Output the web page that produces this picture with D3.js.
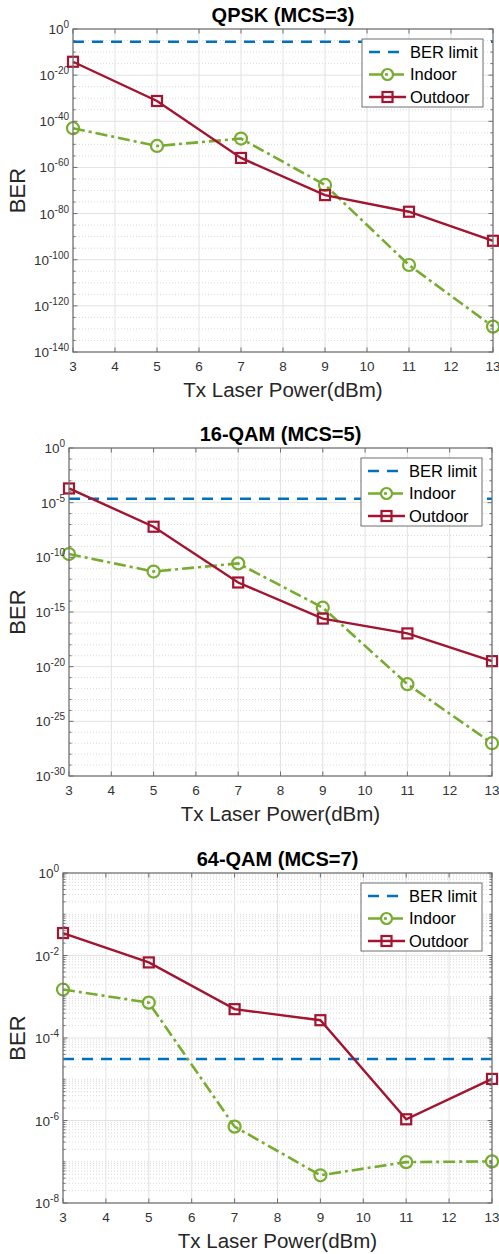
<!DOCTYPE html>
<html lang="en">
<head>
<meta charset="UTF-8">
<title>BER vs Tx laser power</title>
<style>
  body { margin: 0; background: #fff; }
  text { font-family: "Liberation Sans", Arial, sans-serif; }
</style>
</head>
<body>
<svg width="499" height="1254"></svg>
<script src="https://d3js.org/d3.v7.min.js"></script>
<script>

// tx laser power (dBm)
var power = [3, 5, 7, 9, 11, 13];
var xTicks = [3, 4, 5, 6, 7, 8, 9, 10, 11, 12, 13];

// QPSK (MCS=3)
var qpskIndoor  = [1e-43, 2e-51, 3.2e-48, 2.5e-68, 5e-103, 1e-129];
var qpskOutdoor = [6.3e-15, 6.3e-32, 1.3e-56, 1e-72, 6.3e-80, 1.6e-92];
var qpskLimit   = 3.2e-6;
var qpskTicks   = [0, -20, -40, -60, -80, -100, -120, -140];

// 16-QAM (MCS=5)
var qam16Indoor  = [2e-10, 5e-12, 2.8e-11, 2.5e-15, 2.5e-22, 1e-27];
var qam16Outdoor = [2e-4, 6.3e-8, 5e-13, 2.5e-16, 1.1e-17, 3.2e-20];
var qam16Limit   = 2.3e-5;
var qam16Ticks   = [0, -5, -10, -15, -20, -25, -30];

// 64-QAM (MCS=7)
var qam64Indoor  = [1.5e-3, 7.2e-4, 7.1e-7, 4.7e-8, 9.8e-8, 1.02e-7];
var qam64Outdoor = [3.5e-2, 6.8e-3, 5e-4, 2.7e-4, 1.07e-6, 1.02e-5];
var qam64Limit   = 3.1e-5;
var qam64Ticks   = [0, -2, -4, -6, -8];

var blue = "#0072BD", green = "#77AC30", red = "#A2142F";

function minorsEvery(lo, step, majors) {
  var out = [];
  for (var e = 0; e >= lo; e -= step) if (majors.indexOf(e) < 0) out.push(Math.pow(10, e));
  return out;
}
function minorsDecade(lo, majors) {
  var out = [];
  for (var n = lo; n < 0; n++)
    for (var k = 1; k < 10; k++) {
      if (k == 1 && majors.indexOf(n) >= 0) continue;
      out.push(k * Math.pow(10, n));
    }
  return out;
}

var panels = [
  {title: "QPSK (MCS=3)", indoor: qpskIndoor, outdoor: qpskOutdoor, limit: qpskLimit,
   ticks: qpskTicks, minors: minorsEvery(-140, 5, qpskTicks),
   left: 73, right: 493, top: 29, bottom: 352},
  {title: "16-QAM (MCS=5)", indoor: qam16Indoor, outdoor: qam16Outdoor, limit: qam16Limit,
   ticks: qam16Ticks, minors: minorsEvery(-30, 1, qam16Ticks),
   left: 69, right: 492, top: 448, bottom: 776},
  {title: "64-QAM (MCS=7)", indoor: qam64Indoor, outdoor: qam64Outdoor, limit: qam64Limit,
   ticks: qam64Ticks, minors: minorsDecade(-8, qam64Ticks),
   left: 63, right: 492, top: 873, bottom: 1203}
];

var svg = d3.select("svg");

panels.forEach(function(p) {
  var lo = d3.min(p.ticks);
  var x = d3.scaleLinear().domain([3, 13]).range([p.left, p.right]);
  var y = d3.scaleLog().domain([Math.pow(10, lo), 1]).range([p.bottom, p.top]);
  var g = svg.append("g");

  // grid
  g.append("g").selectAll("line").data(p.minors).enter().append("line")
      .attr("x1", p.left).attr("x2", p.right)
      .attr("y1", y).attr("y2", y)
      .attr("stroke", "#cfcfcf").attr("stroke-width", 0.8).attr("stroke-dasharray", "1,2");
  g.append("g").selectAll("line").data(p.ticks).enter().append("line")
      .attr("x1", p.left).attr("x2", p.right)
      .attr("y1", function(d) { return y(Math.pow(10, d)); })
      .attr("y2", function(d) { return y(Math.pow(10, d)); })
      .attr("stroke", "#e2e2e2").attr("stroke-width", 1);
  g.append("g").selectAll("line").data(xTicks).enter().append("line")
      .attr("x1", x).attr("x2", x)
      .attr("y1", p.top).attr("y2", p.bottom)
      .attr("stroke", "#e2e2e2").attr("stroke-width", 1);

  // BER limit
  g.append("line")
      .attr("x1", p.left).attr("x2", p.right)
      .attr("y1", y(p.limit)).attr("y2", y(p.limit))
      .attr("stroke", blue).attr("stroke-width", 2.6).attr("stroke-dasharray", "11,8");

  var line = d3.line()
      .x(function(d, i) { return x(power[i]); })
      .y(function(d) { return y(d); });

  g.append("path").datum(p.indoor)
      .attr("d", line).attr("fill", "none")
      .attr("stroke", green).attr("stroke-width", 2.6).attr("stroke-dasharray", "12,4,3,4");
  g.append("path").datum(p.outdoor)
      .attr("d", line).attr("fill", "none")
      .attr("stroke", red).attr("stroke-width", 2.4);

  g.append("g").selectAll("circle").data(p.indoor).enter().append("circle")
      .attr("cx", function(d, i) { return x(power[i]); })
      .attr("cy", y).attr("r", 6)
      .attr("fill", "none").attr("stroke", green).attr("stroke-width", 2.2);
  g.append("g").selectAll("rect").data(p.outdoor).enter().append("rect")
      .attr("x", function(d, i) { return x(power[i]) - 5; })
      .attr("y", function(d) { return y(d) - 5; })
      .attr("width", 10).attr("height", 10)
      .attr("fill", "none").attr("stroke", red).attr("stroke-width", 2.2);

  // axes box and ticks
  var ax = g.append("g").attr("stroke", "#6e6e6e");
  ax.append("rect")
      .attr("x", p.left).attr("y", p.top)
      .attr("width", p.right - p.left).attr("height", p.bottom - p.top)
      .attr("fill", "none").attr("stroke-width", 1.2);
  xTicks.forEach(function(t) {
    ax.append("line").attr("x1", x(t)).attr("x2", x(t)).attr("y1", p.bottom).attr("y2", p.bottom - 4.5);
    ax.append("line").attr("x1", x(t)).attr("x2", x(t)).attr("y1", p.top).attr("y2", p.top + 4.5);
  });
  p.ticks.forEach(function(t) {
    var yy = y(Math.pow(10, t));
    ax.append("line").attr("x1", p.left).attr("x2", p.left + 4.5).attr("y1", yy).attr("y2", yy);
    ax.append("line").attr("x1", p.right).attr("x2", p.right - 4.5).attr("y1", yy).attr("y2", yy);
  });
  p.minors.forEach(function(t) {
    var yy = y(t);
    ax.append("line").attr("x1", p.left).attr("x2", p.left + 2.5).attr("y1", yy).attr("y2", yy);
    ax.append("line").attr("x1", p.right).attr("x2", p.right - 2.5).attr("y1", yy).attr("y2", yy);
  });

  // tick labels
  g.append("g").selectAll("text").data(xTicks).enter().append("text")
      .attr("x", x).attr("y", p.bottom + 19)
      .attr("text-anchor", "middle").attr("font-size", 13.5).attr("fill", "#333")
      .text(function(d) { return d; });
  var yl = g.append("g").selectAll("text").data(p.ticks).enter().append("text")
      .attr("x", p.left - 4)
      .attr("y", function(d) { return y(Math.pow(10, d)) + 5; })
      .attr("text-anchor", "end").attr("font-size", 13.5).attr("fill", "#333");
  yl.append("tspan").text("10");
  yl.append("tspan").attr("dy", -6).attr("font-size", 10).text(function(d) { return d; });

  // title and axis labels
  g.append("text")
      .attr("x", (p.left + p.right) / 2).attr("y", p.top - 7)
      .attr("text-anchor", "middle").attr("font-size", 20).attr("font-weight", "bold")
      .attr("fill", "#000").text(p.title);
  g.append("text")
      .attr("x", (p.left + p.right) / 2).attr("y", p.bottom + 45)
      .attr("text-anchor", "middle").attr("font-size", 20.5).attr("fill", "#262626")
      .text("Tx Laser Power(dBm)");
  g.append("text")
      .attr("transform", "translate(25," + ((p.top + p.bottom) / 2) + ") rotate(-90)")
      .attr("text-anchor", "middle").attr("font-size", 22).attr("fill", "#262626")
      .text("BER");

  // legend
  var lx = p.right - 131, ly = p.top + 10;
  var lg = g.append("g").attr("transform", "translate(" + lx + "," + ly + ")");
  lg.append("rect").attr("width", 121).attr("height", 68)
      .attr("fill", "#fff").attr("stroke", "#6e6e6e").attr("stroke-width", 1);
  var items = [
    {name: "BER limit", color: blue, dash: "11,8", mark: null},
    {name: "Indoor", color: green, dash: "12,4,3,4", mark: "circle"},
    {name: "Outdoor", color: red, dash: null, mark: "square"}
  ];
  items.forEach(function(it, i) {
    var cy = 13 + i * 22.5;
    lg.append("line").attr("x1", 7).attr("x2", 44).attr("y1", cy).attr("y2", cy)
        .attr("stroke", it.color).attr("stroke-width", 2.6)
        .attr("stroke-dasharray", it.dash);
    if (it.mark == "circle")
      lg.append("circle").attr("cx", 25.5).attr("cy", cy).attr("r", 5.5)
          .attr("fill", "none").attr("stroke", it.color).attr("stroke-width", 2.2);
    if (it.mark == "square")
      lg.append("rect").attr("x", 20.5).attr("y", cy - 5).attr("width", 10).attr("height", 10)
          .attr("fill", "none").attr("stroke", it.color).attr("stroke-width", 2.2);
    lg.append("text").attr("x", 48).attr("y", cy + 5.5)
        .attr("font-size", 16.5).attr("fill", "#000").text(it.name);
  });
});

</script>
</body>
</html>
